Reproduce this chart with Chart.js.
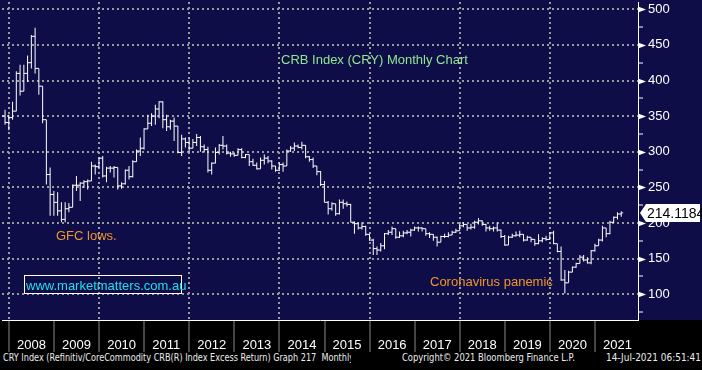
<!DOCTYPE html>
<html>
<head>
<meta charset="utf-8">
<title>CRB Index (CRY) Monthly Chart</title>
<script src="https://cdn.jsdelivr.net/npm/chart.js@4.4.0/dist/chart.umd.min.js"></script>
<style>
  html, body { margin: 0; padding: 0; background: #000; }
  #wrap { position: relative; width: 702px; height: 370px; overflow: hidden; background: #000; }
  #chart { position: absolute; left: 0; top: 0;
           background: linear-gradient(to bottom, #0f0d48 0px, #0f0d48 320px, #000 320px, #000 352px); }
  .foot { position: absolute; top: 0; height: 18px; line-height: 18px; font: 10px "DejaVu Sans", sans-serif;
          color: #ececec; white-space: pre; transform-origin: 0 50%; }
</style>
</head>
<body>
<div id="wrap">
  <canvas id="chart" width="702" height="352"></canvas>
  <div style="position:absolute;left:0;top:352px;width:351px;height:18px;overflow:hidden">
    <span class="foot" id="f1" style="left:3px">CRY Index (Refinitiv/CoreCommodity CRB(R) Index Excess Return) Graph 217  Monthly</span>
  </div>
  <div style="position:absolute;left:0;top:352px;width:702px;height:18px">
    <span class="foot" id="f2" style="left:402px">Copyright© 2021 Bloomberg Finance L.P.</span>
    <span class="foot" id="f3" style="left:606px">14-Jul-2021 06:51:41</span>
  </div>
</div>
<script>
// monthly bars, first one is Oct 2007 (months counted from Jan 2008 = 0)
const firstMonth = -3;
const yearLabels = ['2008', '2009', '2010', '2011', '2012', '2013', '2014',
                    '2015', '2016', '2017', '2018', '2019', '2020', '2021'];
const yLabels = [100, 150, 200, 250, 300, 350, 400, 450, 500];
const lastPrice = 214.1184;

const openV = [
  338, 350, 341,
  348, 357, 410, 385, 410, 425, 462, 417, 392, 345, 268, 240,
  229, 217, 205, 220, 222, 253, 253, 256, 258, 259, 280, 279,
  291, 266, 277, 277, 278, 252, 255, 274, 265, 286, 301, 305,
  332, 340, 350, 360, 370, 345, 335, 343, 336, 299, 318, 313,
  305, 313, 320, 307, 303, 274, 284, 299, 309, 308, 298, 297,
  295, 303, 292, 296, 286, 281, 276, 288, 291, 287, 280, 274,
  282, 280, 301, 305, 308, 306, 309, 293, 289, 280, 272, 254,
  229, 220, 227, 213, 229, 227, 226, 201, 199, 193, 195, 184,
  176, 164, 162, 168, 185, 187, 192, 180, 182, 186, 187, 190,
  193, 193, 192, 185, 184, 180, 173, 181, 181, 183, 187, 189,
  196, 198, 193, 194, 201, 203, 198, 193, 192, 193, 190, 181,
  169, 180, 182, 183, 184, 176, 180, 177, 171, 175, 178, 177,
  186, 171, 160, 120, 116, 131, 138, 143, 152, 148, 144, 161,
  168, 176, 193, 185, 201, 208, 212.6
];
const highV = [
  352, 359, 352,
  370, 413, 422, 422, 435, 464, 474, 417, 392, 345, 278, 245,
  243, 229, 229, 228, 254, 266, 257, 260, 261, 286, 282, 292,
  294, 279, 280, 280, 278, 257, 275, 280, 288, 303, 320, 333,
  352, 354, 366, 371, 371, 352, 345, 348, 336, 324, 320, 320,
  318, 325, 322, 310, 307, 285, 306, 311, 322, 310, 300, 299,
  305, 305, 297, 296, 290, 285, 292, 296, 294, 288, 280, 285,
  285, 303, 308, 313, 310, 314, 309, 294, 292, 280, 273, 259,
  231, 229, 227, 233, 233, 230, 227, 202, 201, 201, 196, 185,
  178, 167, 172, 186, 190, 195, 192, 188, 189, 190, 192, 195,
  195, 194, 192, 187, 184, 181, 182, 185, 187, 189, 192, 199,
  201, 198, 199, 203, 207, 204, 199, 196, 195, 201, 191, 183,
  182, 185, 188, 189, 184, 182, 180, 177, 184, 180, 182, 187,
  189, 171, 167, 134, 133, 139, 144, 155, 155, 152, 162, 171,
  178, 196, 193, 203, 209, 215, 216.3
];
const lowV = [
  324, 338, 330,
  345, 357, 379, 385, 398, 417, 410, 380, 340, 254, 210, 210,
  210, 201, 201, 215, 222, 245, 231, 249, 247, 259, 268, 277,
  264, 257, 271, 264, 247, 248, 254, 261, 264, 286, 294, 303,
  332, 336, 338, 347, 333, 329, 331, 315, 298, 294, 306, 299,
  305, 308, 300, 299, 271, 268, 284, 296, 303, 296, 293, 293,
  295, 291, 291, 280, 280, 275, 276, 282, 284, 275, 272, 273,
  272, 280, 300, 301, 305, 303, 291, 286, 277, 267, 252, 229,
  212, 217, 210, 212, 220, 223, 201, 185, 191, 191, 182, 175,
  155, 155, 160, 163, 183, 183, 178, 179, 180, 184, 181, 189,
  188, 188, 182, 179, 175, 167, 173, 179, 180, 183, 186, 189,
  194, 189, 191, 192, 198, 196, 188, 189, 188, 188, 179, 168,
  169, 179, 181, 180, 174, 175, 173, 168, 170, 173, 175, 176,
  170, 159, 119, 101, 116, 131, 137, 143, 146, 143, 142, 160,
  168, 174, 180, 184, 200, 205, 208.9
];
const closeV = [
  350, 341, 348,
  357, 410, 385, 410, 425, 462, 417, 392, 345, 268, 240, 229,
  217, 205, 220, 222, 253, 253, 256, 258, 259, 280, 279, 291,
  266, 277, 277, 278, 252, 255, 274, 265, 286, 301, 305, 332,
  340, 350, 360, 370, 345, 335, 343, 336, 299, 318, 313, 305,
  313, 320, 307, 303, 274, 284, 299, 309, 308, 298, 297, 295,
  303, 292, 296, 286, 281, 276, 288, 291, 287, 280, 274, 282,
  280, 301, 305, 308, 306, 309, 293, 289, 280, 272, 254, 229,
  220, 227, 213, 229, 227, 226, 201, 199, 193, 195, 184, 176,
  164, 162, 168, 185, 187, 192, 180, 182, 186, 187, 190, 193,
  193, 192, 185, 184, 180, 173, 181, 181, 183, 187, 189, 196,
  198, 193, 194, 201, 203, 198, 193, 192, 193, 190, 181, 169,
  180, 182, 183, 184, 176, 180, 177, 171, 175, 178, 177, 186,
  171, 160, 120, 116, 131, 138, 143, 152, 148, 144, 161, 168,
  176, 193, 185, 201, 208, 212.6, 214.1184
];

const GRID = '#9a9a9a';
const FONT = '"Liberation Sans", Arial, sans-serif';

// bars sit near the end of their month, ticks one pixel either side
const barX = i => i + firstMonth + 0.95;
const TICK = 0.27;

const rangeData = highV.map((h, i) => ({x: barX(i), y: [lowV[i], h]}));
const openData = openV.map((o, i) => ({x: barX(i) - TICK, y: o}));
const closeData = closeV.map((c, i) => ({x: barX(i) + TICK, y: c}));

const tickDataset = (label, data) => ({
  type: 'line',
  label: label,
  data: data,
  showLine: false,
  pointStyle: 'line',
  pointRadius: 1,
  pointHoverRadius: 0,
  pointBorderWidth: 1,
  pointBorderColor: '#ffffff',
  pointBackgroundColor: '#ffffff'
});

const zeroPadding = scale => {
  scale.paddingTop = 0;
  scale.paddingBottom = 0;
  scale.paddingLeft = 0;
  scale.paddingRight = 0;
};

const decorations = {
  id: 'decorations',
  afterDraw(chart) {
    const {ctx, chartArea} = chart;
    const y = chart.scales.y;
    ctx.save();

    // arrow heads on the labelled ticks
    ctx.fillStyle = '#ffffff';
    yLabels.forEach(v => {
      const py = Math.round(y.getPixelForValue(v)) + 0.5;
      ctx.beginPath();
      ctx.moveTo(chartArea.right, py - 3);
      ctx.lineTo(chartArea.right + 8, py);
      ctx.lineTo(chartArea.right, py + 3);
      ctx.closePath();
      ctx.fill();
    });

    // last price tag
    const cy = y.getPixelForValue(lastPrice);
    const tx = chartArea.right + 2;
    ctx.beginPath();
    ctx.moveTo(tx, cy);
    ctx.lineTo(tx + 6, cy - 9);
    ctx.lineTo(700, cy - 9);
    ctx.lineTo(700, cy + 9);
    ctx.lineTo(tx + 6, cy + 9);
    ctx.closePath();
    ctx.fill();
    ctx.fillStyle = '#000';
    ctx.font = '14px ' + FONT;
    ctx.textBaseline = 'middle';
    ctx.fillText(lastPrice.toFixed(4), tx + 7, cy + 1);

    // annotations
    ctx.textBaseline = 'alphabetic';
    ctx.font = '13px ' + FONT;
    ctx.fillStyle = '#8fe88f';
    ctx.fillText('CRB Index (CRY) Monthly Chart', 281, 64);
    ctx.fillStyle = '#f0962a';
    ctx.fillText('GFC lows.', 56, 240);
    ctx.fillText('Coronavirus panemic', 430, 286);

    ctx.strokeStyle = '#ffffff';
    ctx.lineWidth = 1;
    ctx.strokeRect(24.5, 275.5, 157, 18);
    ctx.fillStyle = '#1fdff2';
    ctx.fillText('www.marketmatters.com.au', 26, 290);
    ctx.restore();
  }
};

new Chart(document.getElementById('chart'), {
  type: 'bar',
  data: {
    datasets: [
      {
        label: 'CRY range',
        data: rangeData,
        backgroundColor: '#ffffff',
        borderWidth: 0,
        barThickness: 1,
        inflateAmount: 0,
        grouped: false
      },
      tickDataset('open', openData),
      tickDataset('close', closeData)
    ]
  },
  options: {
    responsive: false,
    animation: false,
    devicePixelRatio: 1,
    events: [],
    layout: {padding: 0},
    plugins: {legend: {display: false}, tooltip: {enabled: false}},
    scales: {
      x: {
        type: 'linear',
        position: 'bottom',
        offset: false,
        min: -1.86,
        max: 167.42,
        afterBuildTicks: s => { s.ticks = yearLabels.map((_, k) => ({value: k * 12})); },
        afterFit: s => { s.height = 32; zeroPadding(s); },
        ticks: {
          callback: (v, i) => yearLabels[i],
          autoSkip: false,
          maxRotation: 0,
          align: 'start',
          labelOffset: 8,
          padding: -15,
          color: '#ffffff',
          font: {family: FONT, size: 13}
        },
        grid: {
          display: true,
          offset: false,
          drawOnChartArea: true,
          drawTicks: true,
          color: c => (c.index % 2 === 0) ? GRID : 'rgba(0,0,0,0)',
          lineWidth: 2,
          tickColor: '#8a8a8a',
          tickWidth: 1,
          tickLength: 33
        },
        border: {display: true, color: '#ffffff', width: 1, dash: [2, 3]}
      },
      y: {
        type: 'linear',
        position: 'right',
        min: 63.8,
        max: 510.2,
        afterBuildTicks: s => {
          const t = [];
          for (let v = 75; v <= 500; v += 25) t.push({value: v});
          s.ticks = t;
        },
        afterFit: s => { s.width = 64; zeroPadding(s); },
        ticks: {
          callback: v => yLabels.includes(v) ? String(v) : '',
          padding: 5,
          color: '#ffffff',
          font: {family: FONT, size: 13}
        },
        grid: {
          display: true,
          drawOnChartArea: true,
          drawTicks: true,
          color: c => (c.index % 2 === 1) ? GRID : 'rgba(0,0,0,0)',
          lineWidth: 2,
          tickColor: '#ffffff',
          tickWidth: 1,
          tickLength: 5
        },
        border: {display: true, color: '#ffffff', width: 1, dash: [2, 3]}
      }
    }
  },
  plugins: [decorations]
});

// squeeze the footer strings to the widths of the original
[['f1', 351], ['f2', 173], ['f3', 95]].forEach(([id, w]) => {
  const el = document.getElementById(id);
  el.style.transform = 'scaleX(' + (w / el.getBoundingClientRect().width) + ')';
});
</script>
</body>
</html>
